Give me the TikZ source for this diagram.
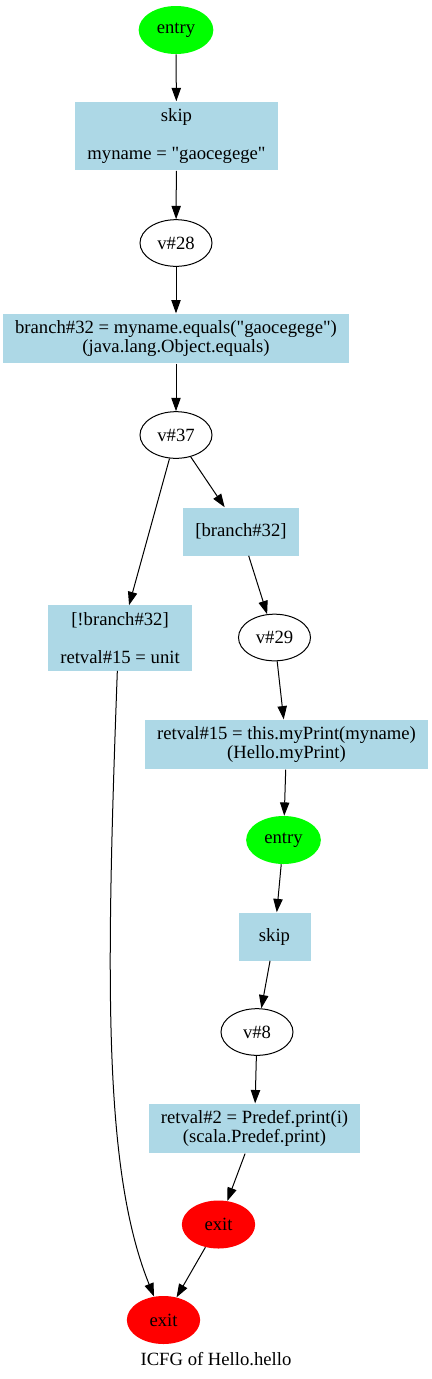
\documentclass[tikz,border=0pt]{standalone}
\usepackage{fontspec}
\setmainfont{Liberation Serif}
\usepackage{tikz}
\usetikzlibrary{shapes}
\usetikzlibrary{arrows.meta}
\usepackage{xcolor}
\definecolor{lightblue}{RGB}{173,216,230}

\begin{document}
\begin{tikzpicture}[x=0.75pt,y=-0.75pt,
    font=\fontsize{14}{14.5}\selectfont,
    stmt/.style={rectangle,fill=lightblue,inner xsep=9pt,inner ysep=5pt,minimum width=54pt,minimum height=36pt,align=center},
    var/.style={ellipse,draw,line width=0.75pt,inner sep=0pt,minimum width=54pt,minimum height=35pt},
    entrynode/.style={ellipse,fill=green,inner sep=0pt,minimum width=56pt,minimum height=36pt},
    exitnode/.style={ellipse,fill=red,inner sep=0pt,minimum width=55pt,minimum height=36pt},
    flow/.style={line width=0.75pt,-{Triangle[length=10pt,width=7pt]}}]
    \useasboundingbox (0,0) rectangle (432,1379);
    % caller
    \node[entrynode] (entry) at (176,30) {entry};
    \node[stmt] (skip) at (176.5,136) {skip\\\mbox{}\\myname = \textquotedbl gaocegege\textquotedbl};
    \node[var] (v28) at (176,243) {v\#28};
    \node[stmt] (branch) at (176,338.5) {branch\#32 = myname.equals(\textquotedbl gaocegege\textquotedbl)\\(java.lang.Object.equals)};
    \node[var] (v37) at (176,435) {v\#37};
    \node[stmt] (btrue) at (241,531.5) {[branch\#32]};
    \node[stmt] (bfalse) at (120,638) {[!branch\#32]\\\mbox{}\\retval\#15 = unit};
    \node[var] (v29) at (274.5,637.5) {v\#29};
    \node[stmt] (call) at (286.5,744.5) {retval\#15 = this.myPrint(myname)\\(Hello.myPrint)};
    % callee
    \node[entrynode] (entryb) at (283.5,840) {entry};
    \node[stmt] (skipb) at (274.5,936.5) {skip};
    \node[var] (v8) at (257,1032) {v\#8};
    \node[stmt] (print) at (254.5,1128.5) {retval\#2 = Predef.print(i)\\(scala.Predef.print)};
    \node[exitnode] (exitb) at (218.5,1224.5) {exit};
    \node[exitnode] (exit) at (163.5,1320) {exit};
    \node (title) at (216,1359) {ICFG of Hello.hello};

    \draw[flow] (entry) -- (skip);
    \draw[flow] (skip) -- (v28);
    \draw[flow] (v28) -- (branch);
    \draw[flow] (branch) -- (v37);
    \draw[flow] (v37) -- (bfalse);
    \draw[flow] (v37) -- (btrue);
    \draw[flow] (btrue) -- (v29);
    \draw[flow] (v29) -- (call);
    \draw[flow] (call) -- (entryb);
    \draw[flow] (entryb) -- (skipb);
    \draw[flow] (skipb) -- (v8);
    \draw[flow] (v8) -- (print);
    \draw[flow] (print) -- (exitb);
    \draw[flow] (exitb) -- (exit);
    \draw[flow] ([xshift=-2pt]bfalse.south) .. controls (106,980) and (103,1170) .. (exit);
\end{tikzpicture}
\end{document}
